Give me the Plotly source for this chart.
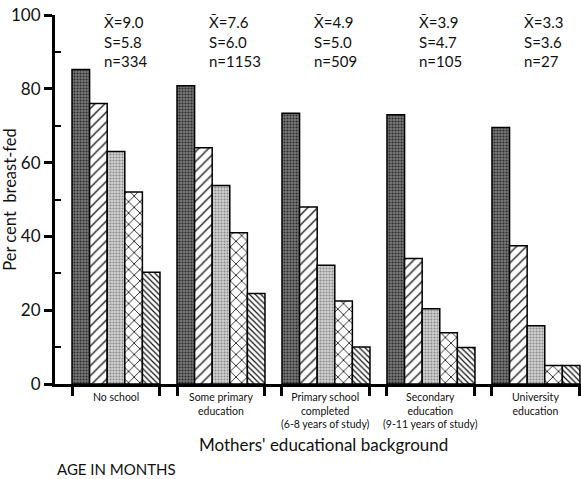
import plotly.graph_objects as go

categories = ["No school", "Some primary<br>education", "Primary school<br>completed<br>(6-8 years of study)",
              "Secondary<br>education<br>(9-11 years of study)", "University<br>education"]
mean_x = ["9.0", "7.6", "4.9", "3.9", "3.3"]
sd_s = ["5.8", "6.0", "5.0", "4.7", "3.6"]
n_vals = ["334", "1153", "509", "105", "27"]
age_groups = ["Age group 1", "Age group 2", "Age group 3", "Age group 4", "Age group 5"]
values = [
    [85.2, 80.8, 73.4, 73.0, 69.5],
    [76.0, 64.0, 48.0, 34.0, 37.5],
    [63.0, 53.8, 32.2, 20.4, 15.8],
    [52.0, 41.0, 22.5, 13.9, 5.0],
    [30.3, 24.5, 10.0, 9.9, 5.0],
]

styles = [
    dict(color="#5e5e5e", shape=".", fg="#2a2a2a", bg="#7a7a7a", size=3, sol=0.4),
    dict(color="white", shape="/", fg="#111111", bg="white", size=7, sol=0.18),
    dict(color="#c4c4c4", shape=".", fg="#8a8a8a", bg="#d2d2d2", size=3, sol=0.4),
    dict(color="white", shape="x", fg="#111111", bg="white", size=8, sol=0.2),
    dict(color="white", shape="\\", fg="#111111", bg="white", size=4, sol=0.3),
]

FONT = "Lato"
xs = list(range(len(categories)))

fig = go.Figure()
for name, vals, st in zip(age_groups, values, styles):
    fig.add_trace(go.Bar(
        x=xs, y=vals, name=name,
        marker=dict(color=st["color"], line=dict(color="black", width=1.5),
                    pattern=dict(shape=st["shape"], fgcolor=st["fg"], bgcolor=st["bg"],
                                 size=st["size"], solidity=st["sol"], fillmode="replace")),
        showlegend=False,
    ))

half = 0.419
edge_ticks = []
for i in xs:
    edge_ticks += [i - half, i + half]

W, H = 581, 479
ml, mr, mt, mb = 55, 0, 15, 95

def py(pix):
    return (H - mb - pix) / (H - mt - mb)

def px(pix):
    return (pix - ml) / (W - ml - mr)

annotations = []
for i in xs:
    txt = "X\u0304=" + mean_x[i] + "<br>S=" + sd_s[i] + "<br>n=" + n_vals[i]
    annotations.append(dict(x=i - 0.135, xref="x", xanchor="left", align="left",
                            y=py(11), yref="paper", yanchor="top",
                            text=txt, showarrow=False,
                            font=dict(family=FONT, size=15, color="#111")))
    annotations.append(dict(x=i, xref="x", xanchor="center", y=0, yref="y", yanchor="top",
                            yshift=-5, text=categories[i], showarrow=False,
                            font=dict(family=FONT, size=10.5, color="#111")))

annotations.append(dict(x=px(323), xref="paper", y=py(445), yref="paper", yanchor="middle",
                        text="Mothers' educational background",
                        showarrow=False, font=dict(family=FONT, size=17, color="#111")))
annotations.append(dict(x=px(55), xref="paper", y=py(469), yref="paper", xanchor="left", yanchor="middle",
                        text="AGE IN MONTHS",
                        showarrow=False, font=dict(family=FONT, size=15, color="#111")))

fig.update_layout(
    width=W, height=H,
    margin=dict(l=ml, r=mr, t=mt, b=mb, autoexpand=False),
    paper_bgcolor="white", plot_bgcolor="white",
    barmode="group", bargap=0.162, bargroupgap=0,
    font=dict(family=FONT, color="#111"),
    xaxis=dict(range=[-0.581, 4.429], showline=True, linecolor="black", linewidth=3,
               tickvals=edge_ticks, ticktext=[""] * len(edge_ticks), ticks="outside",
               ticklen=9, tickwidth=2.5, tickcolor="black", showgrid=False, zeroline=False,
               automargin=False),
    yaxis=dict(range=[0, 100], showline=True, linecolor="black", linewidth=3,
               tickvals=[0, 20, 40, 60, 80, 100], ticks="outside", ticklen=8, tickwidth=2.5,
               tickcolor="black", tickfont=dict(family=FONT, size=17, color="#111"),
               minor=dict(tickvals=[10, 30, 50, 70, 90], ticks="inside", ticklen=6,
                          tickwidth=2, tickcolor="black"),
               showgrid=False, zeroline=False, automargin=False,
               title=dict(text="Per cent  breast-fed", font=dict(family=FONT, size=16.5, color="#111"),
                          standoff=4)),
    annotations=annotations,
)

fig.write_html("out.html")
